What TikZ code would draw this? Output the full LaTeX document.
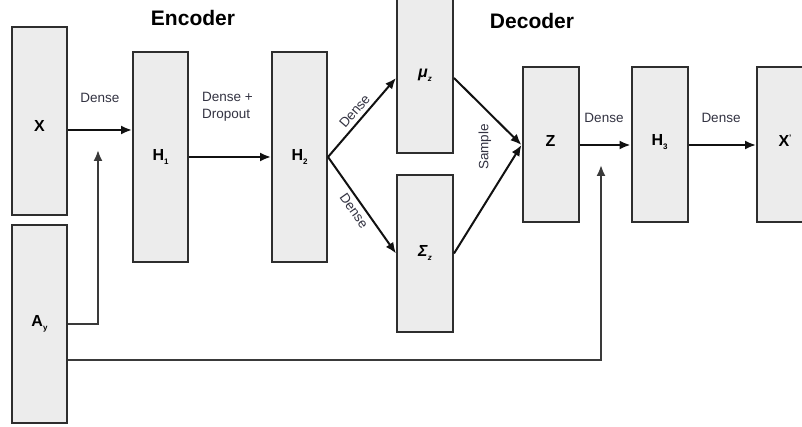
\documentclass[tikz,border=0pt]{standalone}
\usepackage{fontspec}
\setmainfont{Liberation Sans}
\usetikzlibrary{arrows.meta,calc}
\definecolor{boxfill}{HTML}{ECECEC}
\definecolor{boxline}{HTML}{2E2E2E}
\definecolor{linecol}{HTML}{111111}
\definecolor{linegray}{HTML}{3A3A3A}
\definecolor{labcol}{HTML}{333342}
\newcommand\lowsub[1]{\raisebox{-4pt}{\fontsize{8}{8}\selectfont #1}}
\newcommand\highsup[1]{\raisebox{6pt}{\fontsize{8}{8}\selectfont #1}}
\begin{document}
\begin{tikzpicture}[x=1pt,y=1pt,
  box/.style={draw=boxline, fill=boxfill, line width=2pt, minimum width=55pt, inner sep=0pt,
    font=\fontsize{16}{18}\selectfont\bfseries},
  arr/.style={line width=2pt, draw=linecol, -{Latex[length=11pt,width=9pt]}},
  lab/.style={font=\fontsize{13.5}{17}\selectfont, text=labcol, inner sep=4pt},
  title/.style={font=\fontsize{21}{24}\selectfont\bfseries, inner sep=0pt}]
\useasboundingbox (0,0) rectangle (802,427);
\fill[white] (0,0) rectangle (802,427);

% boxes
\node[box, minimum height=188pt, text height=21pt] (X) at (39.5,306) {X};
\node[box, minimum height=198pt] (Ay) at (39.5,103) {A\lowsub{y}};
\node[box, minimum height=210pt] (H1) at (160.5,270) {H\lowsub{1}};
\node[box, minimum height=210pt] (H2) at (299.5,270) {H\lowsub{2}};
\node[box, minimum width=56pt, minimum height=156pt] (mu) at (425,352) {\textit{μ}\lowsub{\textit{z}}};
\node[box, minimum width=56pt, minimum height=157pt] (Sigma) at (425,173.5) {\textit{Σ}\lowsub{\textit{z}}};
\node[box, minimum width=56pt, minimum height=155pt, text depth=8pt] (Z) at (550.5,282) {Z};
\node[box, minimum width=56pt, minimum height=155pt, text depth=10pt] (H3) at (659.5,282) {H\lowsub{3}};
\node[box, minimum width=56pt, minimum height=155pt, text depth=8pt] (Xp) at (785,282) {X\highsup{'}};

% titles
\node[title] (enc) at (193,409) {Encoder};
\node[title] (dec) at (532,406) {Decoder};

% connectors
\draw[arr] ([yshift=-9pt]X.east) -- ([yshift=-9pt]X.east -| H1.west);
\node[lab] (l1) at (100,329) {Dense};
\coordinate (j1) at (98,277);
\draw[arr, draw=linegray] (Ay.east) -| (j1);
\draw[arr] (H1.east) -- (H2.west);
\node[lab, align=left, anchor=west] (l2) at (198,320.5) {Dense +\\Dropout};
\draw[arr] (H2.east) -- node[lab, sloped, above] (l3) {Dense} ([yshift=-3pt]mu.west);
\draw[arr] (H2.east) -- node[lab, sloped, below] (l4) {Dense} (Sigma.west);
\draw[arr] ([yshift=-3pt]mu.east) -- (Z.west);
\draw[arr] (Sigma.east) -- (Z.west);
\node[lab, rotate=90] (l5) at (485,280) {Sample};
\draw[arr] (Z.east) -- (H3.west);
\node[lab] (l6) at (604,309) {Dense};
\draw[arr] (H3.east) -- (Xp.west);
\node[lab] (l7) at (721,309) {Dense};
\coordinate (j2) at (601,262);
\draw[arr, draw=linegray] ([yshift=-36pt]Ay.east) -| (j2);
\end{tikzpicture}
\end{document}
